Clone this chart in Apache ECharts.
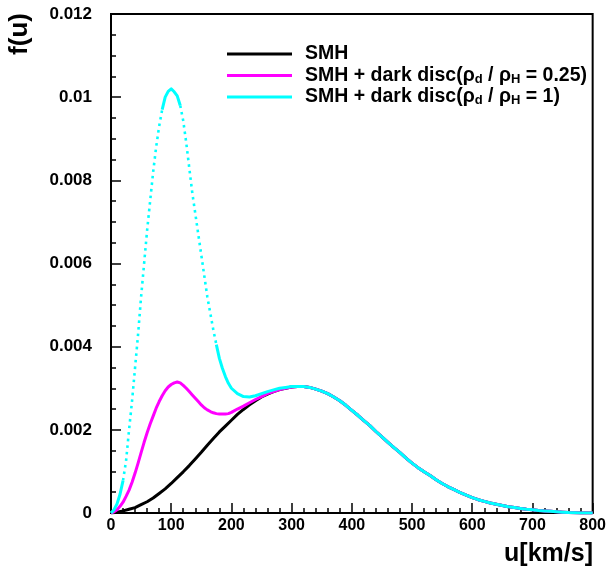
<!DOCTYPE html>
<html>
<head>
<meta charset="utf-8">
<script src="https://cdn.jsdelivr.net/npm/echarts@6/dist/echarts.min.js"></script>
<style>
  html, body { margin: 0; padding: 0; background: #fff; }
  #chart { width: 609px; height: 567px; }
</style>
</head>
<body>
<div id="chart"></div>
<script>
// velocity grid (km/s) for the SMH curve
const speed = [
  0, 10, 20, 30, 40, 50, 60, 70, 80, 90,
  100, 110, 120, 130, 140, 150, 160, 170, 180, 190,
  200, 210, 220, 230, 240, 250, 260, 270, 280, 290,
  300, 310, 320, 330, 340, 350, 360, 370, 380, 390,
  400, 410, 420, 430, 440, 450, 460, 470, 480, 490,
  500, 510, 520, 530, 540, 550, 560, 570, 580, 590,
  600, 610, 620, 630, 640, 650, 660, 670, 680, 690,
  700, 710, 720, 730, 740, 750, 760, 770, 780, 790, 800
]
const smh = [
  0, 0.00002, 0.00005, 0.00009, 0.00013, 0.0002, 0.00027, 0.00036, 0.00047, 0.00058,
  0.00071, 0.00085, 0.00099, 0.00114, 0.0013, 0.00146, 0.00163, 0.00179, 0.00195, 0.00209,
  0.00223, 0.00237, 0.00249, 0.0026, 0.0027, 0.00279, 0.00286, 0.00292, 0.00297, 0.003,
  0.00303, 0.00304, 0.00304, 0.00302, 0.00298, 0.00293, 0.00287, 0.00279, 0.0027, 0.00259,
  0.00247, 0.00235, 0.00222, 0.0021, 0.00196, 0.00183, 0.0017, 0.00157, 0.00145, 0.00132,
  0.0012, 0.00109, 0.00099, 0.0009, 0.0008, 0.00071, 0.00063, 0.00056, 0.00049, 0.00043,
  0.00037, 0.00032, 0.00028, 0.00024, 0.00021, 0.00018, 0.00015, 0.00013, 0.00011, 0.00009,
  0.00008, 0.00006, 0.00005, 0.00004, 0.00003, 0.00002, 0.00001, 0.000005, 0, 0, 0
]

// finer grid for the low-velocity part where the dark disc adds its bump
const speedLow = [
  0, 5, 10, 15, 20, 25, 30, 35, 40, 45,
  50, 55, 60, 65, 70, 75, 80, 85, 90, 95,
  100, 105, 110, 115, 120, 125, 130, 135, 140, 145,
  150, 155, 160, 165, 170, 175, 180, 185, 190, 195,
  200, 210, 220, 230, 240, 250, 260, 270, 280, 290, 300
]
const disc025 = [
  0, 0.00003, 0.00008, 0.00016, 0.00026, 0.0004, 0.00055, 0.00074, 0.00096, 0.0012,
  0.00145, 0.0017, 0.00193, 0.00214, 0.00233, 0.00252, 0.00268, 0.00282, 0.00294, 0.00303,
  0.00309, 0.00313, 0.00315, 0.00313, 0.00307, 0.003, 0.00292, 0.00284, 0.00276, 0.00268,
  0.0026, 0.00253, 0.00248, 0.00244, 0.00241, 0.00239, 0.00238, 0.00238, 0.00238, 0.00239,
  0.00242, 0.0025, 0.00257, 0.00265, 0.00273, 0.0028, 0.00287, 0.00292, 0.00297, 0.003, 0.00303
]
const disc1 = [
  0, 0.00008, 0.00022, 0.00045, 0.00078, 0.00125, 0.002, 0.0027, 0.0035, 0.0043,
  0.0052, 0.006, 0.0068, 0.0075, 0.0082, 0.0088, 0.0093, 0.0097, 0.01, 0.01014,
  0.0102, 0.01013, 0.01003, 0.0098, 0.00943, 0.0089, 0.0083, 0.0077, 0.0072, 0.0067,
  0.0062, 0.0057, 0.0052, 0.0048, 0.0044, 0.00405, 0.00372, 0.00348, 0.00328, 0.00312,
  0.003, 0.00287, 0.0028, 0.00279, 0.00282, 0.00287, 0.00292, 0.00296, 0.003, 0.00302, 0.00304
]

const names = [
  'SMH',
  'SMH + dark disc(ρd / ρH = 0.25)',
  'SMH + dark disc(ρd / ρH = 1)'
]
const legendRich = [
  'SMH',
  'SMH + dark disc(ρ{sub|d} / ρ{sub|H} = 0.25)',
  'SMH + dark disc(ρ{sub|d} / ρ{sub|H} = 1)'
]
const colors = ['#000000', '#ff00ff', '#00ffff']

const smhPts = speed.map((u, i) => [u, smh[i]])
const tail = smhPts.filter(p => p[0] > 300)
const pinkPts = speedLow.map((u, i) => [u, disc025[i]]).concat(tail)
const cyanPts = speedLow.map((u, i) => [u, disc1[i]]).concat(tail)

const piece = (pts, a, b) => pts.filter(p => p[0] >= a && p[0] <= b)

const lineSeries = (name, data, color, dotted) => ({
  name,
  type: 'line',
  data,
  smooth: false,
  symbol: 'none',
  animation: false,
  lineStyle: {
    color,
    width: dotted ? 2.6 : 3,
    type: dotted ? [2.6, 4] : 'solid',
    cap: 'butt',
    join: 'round'
  },
  itemStyle: { color }
})

const chart = echarts.init(document.getElementById('chart'))

const font = 'Liberation Sans'

chart.setOption({
  animation: false,
  grid: {
    left: 111, right: 16, top: 14, bottom: 54,
    show: true, borderColor: '#000', borderWidth: 2
  },
  legend: {
    data: names,
    orient: 'vertical',
    left: 222,
    top: 39,
    itemWidth: 65,
    itemHeight: 3,
    itemGap: 1.5,
    icon: 'rect',
    formatter: name => legendRich[names.indexOf(name)],
    textStyle: {
      fontFamily: font,
      fontWeight: 'bold',
      fontSize: 19.5,
      lineHeight: 20,
      color: '#000',
      padding: [0, 0, 0, 8],
      rich: {
        sub: {
          fontFamily: font,
          fontWeight: 'bold',
          fontSize: 13,
          lineHeight: 3,
          verticalAlign: 'bottom',
          color: '#000'
        }
      }
    }
  },
  xAxis: {
    type: 'value',
    min: 0, max: 800, interval: 100,
    axisLine: { show: true, lineStyle: { color: '#000', width: 2 } },
    axisTick: { inside: true, length: 10, lineStyle: { color: '#000', width: 1.5 } },
    minorTick: { show: true, splitNumber: 5, length: 5, lineStyle: { color: '#000', width: 1.5 } },
    splitLine: { show: false },
    axisLabel: { color: '#000', fontFamily: font, fontWeight: 'bold', fontSize: 16, margin: 5 }
  },
  yAxis: {
    type: 'value',
    min: 0, max: 0.012, interval: 0.002,
    axisLine: { show: true, lineStyle: { color: '#000', width: 2 } },
    axisTick: { inside: true, length: 10, lineStyle: { color: '#000', width: 1.5 } },
    minorTick: { show: true, splitNumber: 4, length: 5, lineStyle: { color: '#000', width: 1.5 } },
    splitLine: { show: false },
    axisLabel: { color: '#000', fontFamily: font, fontWeight: 'bold', fontSize: 17, margin: 19 }
  },
  graphic: [
    {
      type: 'text',
      x: 20, y: 34,
      rotation: Math.PI / 2,
      style: {
        text: 'f(u)',
        font: 'bold 26px "Liberation Sans"',
        fill: '#000',
        align: 'center',
        verticalAlign: 'middle'
      }
    },
    {
      type: 'text',
      x: 593, y: 554,
      style: {
        text: 'u[km/s]',
        font: 'bold 25px "Liberation Sans"',
        fill: '#000',
        align: 'right',
        verticalAlign: 'middle'
      }
    }
  ],
  series: [
    lineSeries(names[0], smhPts, colors[0], false),
    lineSeries(names[1], pinkPts, colors[1], false),
    lineSeries(names[2], piece(cyanPts, 0, 20), colors[2], false),
    lineSeries(names[2], piece(cyanPts, 20, 85), colors[2], true),
    lineSeries(names[2], piece(cyanPts, 85, 115), colors[2], false),
    lineSeries(names[2], piece(cyanPts, 115, 175), colors[2], true),
    lineSeries(names[2], piece(cyanPts, 175, 800), colors[2], false)
  ]
})
</script>
</body>
</html>
